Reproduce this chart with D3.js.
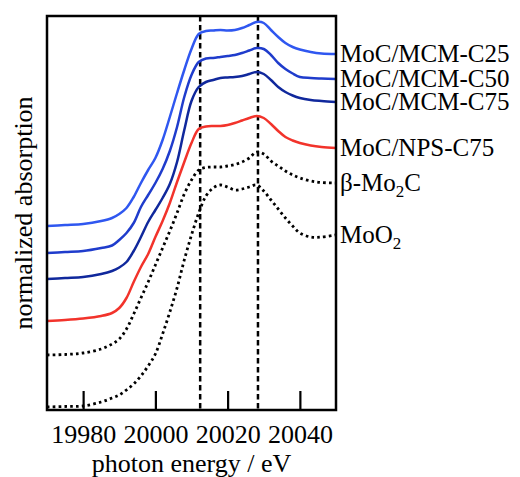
<!DOCTYPE html>
<html>
<head>
<meta charset="utf-8">
<script src="https://cdn.jsdelivr.net/npm/d3@7"></script>
<style>
  body { margin: 0; background: #fff; }
  text { font-family: "Liberation Serif", "Times New Roman", serif; fill: #000; }
</style>
</head>
<body>
<svg width="520" height="477"></svg>
<script>
// photon energy grid (eV)
var energy = [19970, 19975, 19980, 19985, 19988, 19990, 19992, 19994, 19996, 19998,
  20000, 20002, 20004, 20006, 20008, 20010, 20012, 20014, 20016, 20018,
  20020, 20022, 20024, 20026, 20028, 20030, 20032, 20034, 20036, 20038,
  20040, 20043, 20046, 20050];

// normalized absorption, stacked with offsets
var mcmC25 = [1.84, 1.85, 1.86, 1.89, 1.92, 1.96, 2.02, 2.13, 2.27, 2.40,
  2.52, 2.70, 2.93, 3.17, 3.40, 3.61, 3.76, 3.79, 3.795, 3.80,
  3.795, 3.80, 3.82, 3.85, 3.88, 3.87, 3.80, 3.73, 3.67, 3.63,
  3.605, 3.58, 3.565, 3.56];
var mcmC50 = [1.57, 1.58, 1.59, 1.62, 1.645, 1.70, 1.77, 1.87, 2.03, 2.15,
  2.27, 2.41, 2.59, 2.83, 3.13, 3.35, 3.48, 3.515, 3.52, 3.53,
  3.54, 3.55, 3.57, 3.595, 3.62, 3.61, 3.55, 3.47, 3.41, 3.365,
  3.33, 3.32, 3.315, 3.31];
var mcmC75 = [1.31, 1.32, 1.33, 1.36, 1.39, 1.425, 1.48, 1.59, 1.73, 1.88,
  2.00, 2.12, 2.26, 2.48, 2.80, 3.09, 3.23, 3.28, 3.30, 3.32,
  3.325, 3.33, 3.34, 3.36, 3.38, 3.36, 3.30, 3.23, 3.18, 3.145,
  3.12, 3.10, 3.09, 3.08];
var npsC75 = [0.89, 0.90, 0.915, 0.94, 0.97, 1.02, 1.12, 1.28, 1.43, 1.56,
  1.73, 1.89, 2.07, 2.28, 2.48, 2.67, 2.81, 2.835, 2.84, 2.84,
  2.85, 2.87, 2.895, 2.92, 2.94, 2.92, 2.86, 2.79, 2.73, 2.695,
  2.67, 2.645, 2.63, 2.62];
var mo2c = [0.55, 0.555, 0.57, 0.61, 0.66, 0.71, 0.81, 0.96, 1.12, 1.28,
  1.45, 1.62, 1.79, 1.97, 2.16, 2.30, 2.40, 2.425, 2.43, 2.43,
  2.44, 2.455, 2.48, 2.52, 2.58, 2.56, 2.49, 2.44, 2.39, 2.35,
  2.32, 2.29, 2.275, 2.27];
var moo2 = [0.03, 0.035, 0.04, 0.08, 0.12, 0.15, 0.20, 0.26, 0.34, 0.44,
  0.56, 0.76, 0.98, 1.22, 1.50, 1.75, 1.97, 2.14, 2.22, 2.25,
  2.23, 2.20, 2.21, 2.23, 2.25, 2.19, 2.10, 2.01, 1.92, 1.84,
  1.77, 1.73, 1.73, 1.75];

var xTicks = [19980, 20000, 20020, 20040];
var refLines = [20012.4, 20028.4];

var series = [
  {name: ["MoC/MCM-C25"], values: mcmC25, color: "#2f57f0", dotted: false},
  {name: ["MoC/MCM-C50"], values: mcmC50, color: "#1f3ccc", dotted: false},
  {name: ["MoC/MCM-C75"], values: mcmC75, color: "#10289c", dotted: false},
  {name: ["MoC/NPS-C75"], values: npsC75, color: "#f2332b", dotted: false},
  {name: ["β-Mo", "2", "C"], values: mo2c, color: "#000", dotted: true},
  {name: ["MoO", "2"], values: moo2, color: "#000", dotted: true}
];

var svg = d3.select("svg");
var margin = {top: 16, right: 184, bottom: 67, left: 47},
    width = 520 - margin.left - margin.right,
    height = 477 - margin.top - margin.bottom;

var g = svg.append("g")
    .attr("transform", "translate(" + margin.left + "," + margin.top + ")");

var x = d3.scaleLinear().domain([19970, 20050]).range([0, width]);
var y = d3.scaleLinear().domain([0, 3.94]).range([height, 0]);

// dashed reference lines
g.selectAll(".ref")
  .data(refLines)
  .enter()
  .append("line")
    .attr("x1", d => x(d)).attr("x2", d => x(d))
    .attr("y1", 0).attr("y2", height)
    .attr("stroke", "#000")
    .attr("stroke-width", 2.5)
    .attr("stroke-dasharray", "5.5,3.5");

var line = d3.line()
  .x((d, i) => x(energy[i]))
  .y(d => y(d))
  .curve(d3.curveCatmullRom.alpha(0.5));

g.selectAll(".spectrum")
  .data(series)
  .enter()
  .append("path")
    .attr("d", d => line(d.values))
    .attr("fill", "none")
    .attr("stroke", d => d.color)
    .attr("stroke-width", d => d.dotted ? 2.8 : 2.5)
    .attr("stroke-dasharray", d => d.dotted ? "2.6,3.2" : null);

// x axis, ticks pointing inwards
var xAxis = g.append("g")
    .attr("transform", "translate(0," + height + ")")
    .call(d3.axisBottom(x).tickValues(xTicks).tickFormat(d3.format("d"))
      .tickSizeInner(-19).tickSizeOuter(0).tickPadding(15));
xAxis.select(".domain").remove();
xAxis.selectAll(".tick line").attr("stroke", "#000").attr("stroke-width", 2.2);
xAxis.selectAll(".tick text")
    .attr("font-family", "'Liberation Serif', serif")
    .attr("font-size", 26);

// frame
g.append("rect")
    .attr("width", width).attr("height", height)
    .attr("fill", "none")
    .attr("stroke", "#000")
    .attr("stroke-width", 2.5);

// series labels at the right end of each curve
var labels = g.selectAll(".label")
  .data(series)
  .enter()
  .append("text")
    .attr("x", width + 4)
    .attr("y", d => y(d.values[d.values.length - 1]) + 7.5)
    .attr("font-size", 25);

labels.each(function (d) {
  var t = d3.select(this);
  d.name.forEach(function (part, i) {
    var sub = i % 2 === 1;
    t.append("tspan")
      .attr("font-size", sub ? 17 : 25)
      .attr("dy", sub ? 6 : (i > 0 ? -6 : 0))
      .text(part);
  });
});

// axis titles
svg.append("text")
    .attr("x", margin.left + width / 2)
    .attr("y", 472)
    .attr("text-anchor", "middle")
    .attr("font-size", 26)
    .text("photon energy / eV");

svg.append("text")
    .attr("transform", "translate(32," + (margin.top + height / 2) + ") rotate(-90)")
    .attr("text-anchor", "middle")
    .attr("font-size", 26)
    .text("normalized absorption");
</script>
</body>
</html>
